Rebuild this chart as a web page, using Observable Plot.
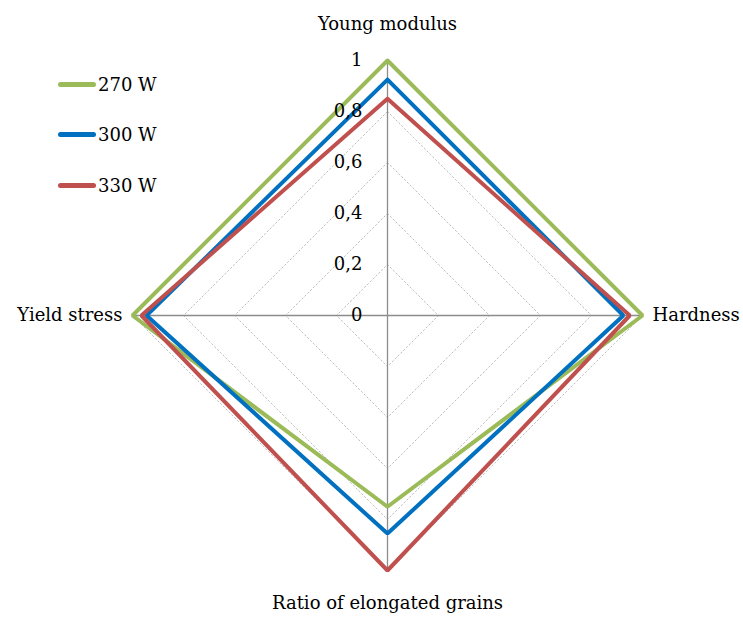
<!DOCTYPE html>
<html>
<head>
<meta charset="utf-8">
<script src="https://cdn.jsdelivr.net/npm/d3@7"></script>
<script src="https://cdn.jsdelivr.net/npm/@observablehq/plot@0.6"></script>
<style>
  body { margin: 0; background: #fff; }
  #wrap { position: relative; width: 743px; height: 619px; }
  #legend { position: absolute; left: 58px; top: 59px; font-family: "DejaVu Serif", "Liberation Serif", serif; font-size: 18px; color: #000; }
  .item { display: flex; align-items: center; height: 50.5px; }
  .sw { width: 38px; height: 5px; border-radius: 3px; margin-right: 2px; }
</style>
</head>
<body>
<div id="wrap"><div id="legend"></div></div>
<script>
const axes = ["Young modulus", "Hardness", "Ratio of elongated grains", "Yield stress"];
const seriesNames = ["270 W", "300 W", "330 W"];
const colors = ["#9BBB59", "#0070C0", "#C0504D"];
const values270 = [1.0, 1.0, 0.75, 1.0];
const values300 = [0.925, 0.925, 0.855, 0.945];
const values330 = [0.85, 0.95, 1.0, 0.965];
const tickValues = [0, 0.2, 0.4, 0.6, 0.8, 1];
const tickLabels = ["0", "0,2", "0,4", "0,6", "0,8", "1"];

const allValues = [values270, values300, values330];
const angle = i => (i * Math.PI) / 2; // 0 = up, clockwise
const px = (i, v) => v * Math.sin(angle(i));
const py = (i, v) => v * Math.cos(angle(i));

const lineData = [];
allValues.forEach((vals, s) => {
  [...vals, vals[0]].forEach((v, k) => {
    const i = k % axes.length;
    lineData.push({series: seriesNames[s], x: px(i, v), y: py(i, v)});
  });
});

const gridData = [];
tickValues.filter(t => t > 0).forEach(t => {
  for (let k = 0; k <= axes.length; k++) {
    const i = k % axes.length;
    gridData.push({level: t, x: px(i, t), y: py(i, t)});
  }
});

const spokes = axes.map((a, i) => ({x1: 0, y1: 0, x2: px(i, 1), y2: py(i, 1)}));

const labels = axes.map((a, i) => ({name: a, x: px(i, 1), y: py(i, 1), i}));
const tickData = tickValues.map((t, k) => ({x: 0, y: t, label: tickLabels[k]}));

const font = "DejaVu Serif, Liberation Serif, serif";
const fs = 18;

const chart = Plot.plot({
  width: 743,
  height: 619,
  marginLeft: 132,
  marginRight: 101,
  marginTop: 60,
  marginBottom: 49,
  x: {domain: [-1, 1], axis: null},
  y: {domain: [-1, 1], axis: null},
  color: {domain: seriesNames, range: colors},
  style: {fontFamily: font, fontSize: fs + "px", background: "#fff", overflow: "visible"},
  marks: [
    Plot.line(gridData, {x: "x", y: "y", z: "level", stroke: "#c0c0c0", strokeWidth: 1, strokeDasharray: "1.5,2.5"}),
    Plot.link(spokes, {x1: "x1", y1: "y1", x2: "x2", y2: "y2", stroke: "#8c8c8c", strokeWidth: 1.3}),
    Plot.line(lineData, {x: "x", y: "y", z: "series", stroke: "series", strokeWidth: 4, strokeLinejoin: "miter"}),
    Plot.text(tickData, {x: "x", y: "y", text: "label", textAnchor: "end", dx: -25, fontSize: fs, fill: "#000"}),
    Plot.text(labels.filter(d => d.i === 0), {x: "x", y: "y", text: "name", dy: -36, fontSize: fs, fill: "#000"}),
    Plot.text(labels.filter(d => d.i === 1), {x: "x", y: "y", text: "name", textAnchor: "start", dx: 10, fontSize: fs, fill: "#000"}),
    Plot.text(labels.filter(d => d.i === 2), {x: "x", y: "y", text: "name", dy: 33, fontSize: fs, fill: "#000"}),
    Plot.text(labels.filter(d => d.i === 3), {x: "x", y: "y", text: "name", textAnchor: "end", dx: -10, fontSize: fs, fill: "#000"})
  ]
});
const wrap = document.getElementById("wrap");
wrap.insertBefore(chart, wrap.firstChild);

const legend = document.getElementById("legend");
seriesNames.forEach((n, s) => {
  const it = document.createElement("div");
  it.className = "item";
  it.innerHTML = `<span class="sw" style="background:${colors[s]}"></span><span>${n}</span>`;
  legend.appendChild(it);
});
</script>
</body>
</html>
